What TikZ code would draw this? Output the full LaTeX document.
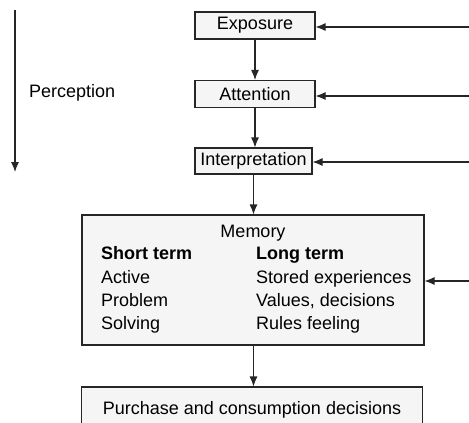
\documentclass[tikz,border=0pt]{standalone}
\usepackage{fontspec}
\setmainfont{Liberation Sans}
\usetikzlibrary{arrows.meta}
\begin{document}
\begin{tikzpicture}[x=1pt,y=-1pt,
  every node/.style={font=\fontsize{18}{21}\selectfont},
  box/.style={draw=black!85,line width=1.1pt,fill=gray!8,inner sep=0pt,minimum height=27pt},
  conn/.style={line width=1.1pt,draw=black!85,-{Latex[length=10pt,width=8pt]}},
  lbl/.style={anchor=base west,inner sep=0pt}]
\useasboundingbox (0,0) rectangle (469,423);
\clip (0,0) rectangle (469,423);
% boxes
\node[box,minimum width=120pt] (exp) at (255,25.5) {Exposure};
\node[box,minimum width=120pt] (att) at (255,94) {Attention};
\node[box,minimum width=117pt,minimum height=26pt] (int) at (253.5,161) {Interpretation};
\node[box,minimum width=342pt,minimum height=130pt] (mem) at (253,280) {};
\node[box,minimum width=341pt,minimum height=46pt] (pur) at (252,410) {Purchase and consumption decisions};
% memory contents
\node[anchor=base,inner sep=0pt] (memt) at (253,237) {Memory};
\node[lbl] (st) at (101,259) {\bfseries Short term};
\node[lbl] (act) at (101,283) {Active};
\node[lbl] (prob) at (101,306) {Problem};
\node[lbl] (solv) at (101,329) {Solving};
\node[lbl] (lt) at (256,259) {\bfseries Long term};
\node[lbl] (stor) at (256,283) {Stored experiences};
\node[lbl] (val) at (256,306) {Values, decisions};
\node[lbl] (rul) at (256,329) {Rules feeling};
% vertical flow
\draw[conn] (exp) -- (att);
\draw[conn] (att.south) -- (att.south |- int.north);
\draw[conn] (int.south) -- (int.south |- mem.north);
\draw[conn] (mem.south -| int.south) -- (int.south |- pur.north);
% inputs from right
\coordinate (r1) at (469,27);
\coordinate (r2) at (469,96);
\coordinate (r3) at (469,162);
\coordinate (r4) at (469,281);
\draw[conn] (r1) -- (r1 -| exp.east);
\draw[conn] (r2) -- (r2 -| att.east);
\draw[conn] (r3) -- (r3 -| int.east);
\draw[conn] (r4) -- (r4 -| mem.east);
% perception
\coordinate (pa) at (15,10);
\coordinate (pb) at (15,172);
\draw[conn] (pa) -- (pb);
\node[anchor=west,inner sep=0pt] (perc) at (29,93) {Perception};
\end{tikzpicture}
\end{document}
